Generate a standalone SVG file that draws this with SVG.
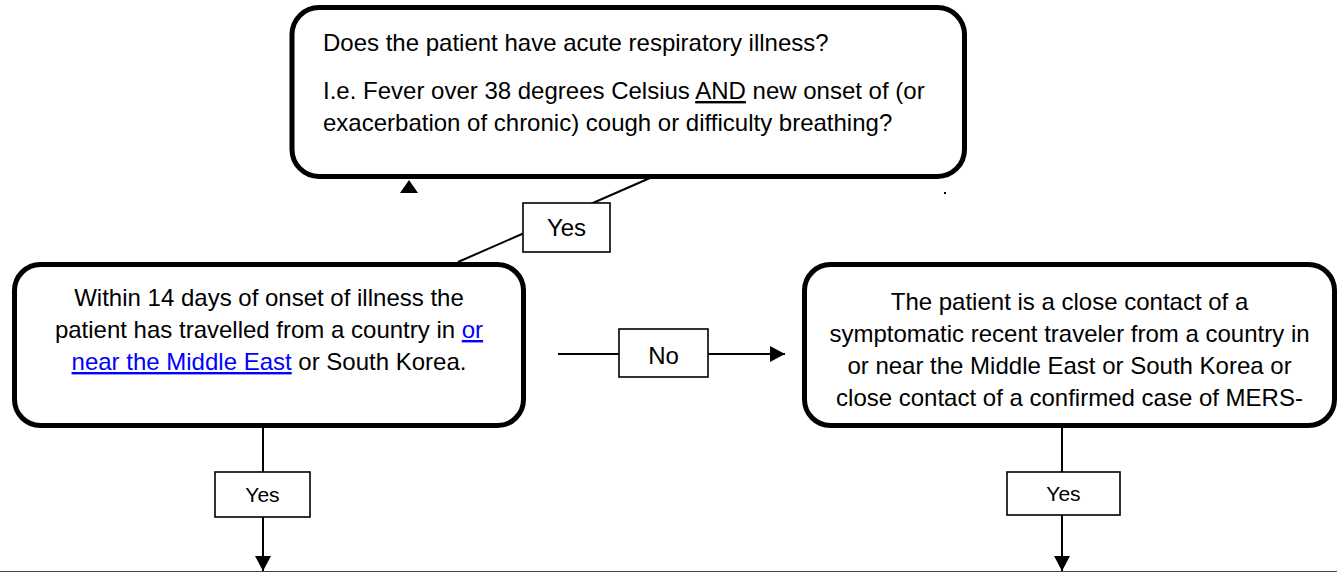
<svg xmlns="http://www.w3.org/2000/svg" width="1337" height="572" viewBox="0 0 1337 572">
<defs>
<style>
.box{fill:#fff;stroke:#000;stroke-width:5}
.lbl{fill:#fff;stroke:#000;stroke-width:1.6}
.t{font-family:"Liberation Sans",Arial,sans-serif;font-size:24px;fill:#000}
.s{font-size:21px}
.c{text-anchor:middle}
.ln{stroke:#000;stroke-width:2;fill:none}
.link{fill:#0000ff;text-decoration:underline}
.u{text-decoration:underline}
</style>
<marker id="ah" markerUnits="userSpaceOnUse" markerWidth="16" markerHeight="16" refX="15" refY="8" orient="auto">
<path d="M0,0 L15,8 L0,16 z" fill="#000"/>
</marker>
</defs>
<rect width="1337" height="572" fill="#fff"/>

<g id="node-acute">
<rect class="box" x="292" y="7.5" width="672.5" height="169" rx="27"/>
<text class="t" x="323" y="51">Does the patient have acute respiratory illness?</text>
<text class="t" x="323" y="99">I.e. Fever over 38 degrees Celsius <tspan class="u">AND</tspan> new onset of (or</text>
<text class="t" x="323" y="131">exacerbation of chronic) cough or difficulty breathing?</text>
</g>

<g id="node-travel">
<rect class="box" x="14.5" y="264.5" width="509" height="161" rx="26"/>
<text class="t c" x="269" y="306">Within 14 days of onset of illness the</text>
<text class="t c" x="269" y="338">patient has travelled from a country in <tspan class="link">or</tspan></text>
<text class="t c" x="269" y="370"><tspan class="link">near the Middle East</tspan> or South Korea.</text>
</g>

<g id="node-contact">
<rect class="box" x="804.5" y="264.5" width="530" height="161" rx="26"/>
<text class="t c" x="1069.5" y="310">The patient is a close contact of a</text>
<text class="t c" x="1069.5" y="342">symptomatic recent traveler from a country in</text>
<text class="t c" x="1069.5" y="374">or near the Middle East or South Korea or</text>
<text class="t c" x="1069.5" y="406">close contact of a confirmed case of MERS-</text>
</g>

<g id="connectors">
<line class="ln" x1="650" y1="178" x2="458" y2="262"/>
<polygon points="400,193 409,180 418,193" fill="#000"/>
<rect x="944" y="192" width="2" height="2" fill="#000"/>
<rect class="lbl" x="523" y="203" width="87" height="49"/>
<text class="t c" x="566.5" y="236">Yes</text>

<line class="ln" x1="558" y1="354" x2="619" y2="354"/>
<line class="ln" x1="708" y1="354" x2="785" y2="354" marker-end="url(#ah)"/>
<rect class="lbl" x="619" y="329" width="89" height="48"/>
<text class="t c" x="663.5" y="364">No</text>

<line class="ln" x1="263" y1="428" x2="263" y2="472"/>
<line class="ln" x1="263" y1="517" x2="263" y2="571" marker-end="url(#ah)"/>
<rect class="lbl" x="215" y="472" width="95" height="45"/>
<text class="t s c" x="262.5" y="502">Yes</text>

<line class="ln" x1="1062" y1="428" x2="1062" y2="472"/>
<line class="ln" x1="1062" y1="515" x2="1062" y2="571" marker-end="url(#ah)"/>
<rect class="lbl" x="1007" y="472" width="113" height="43"/>
<text class="t s c" x="1063.5" y="501">Yes</text>

<line x1="0" y1="571.5" x2="1337" y2="571.5" stroke="#444" stroke-width="1"/>
</g>
</svg>
